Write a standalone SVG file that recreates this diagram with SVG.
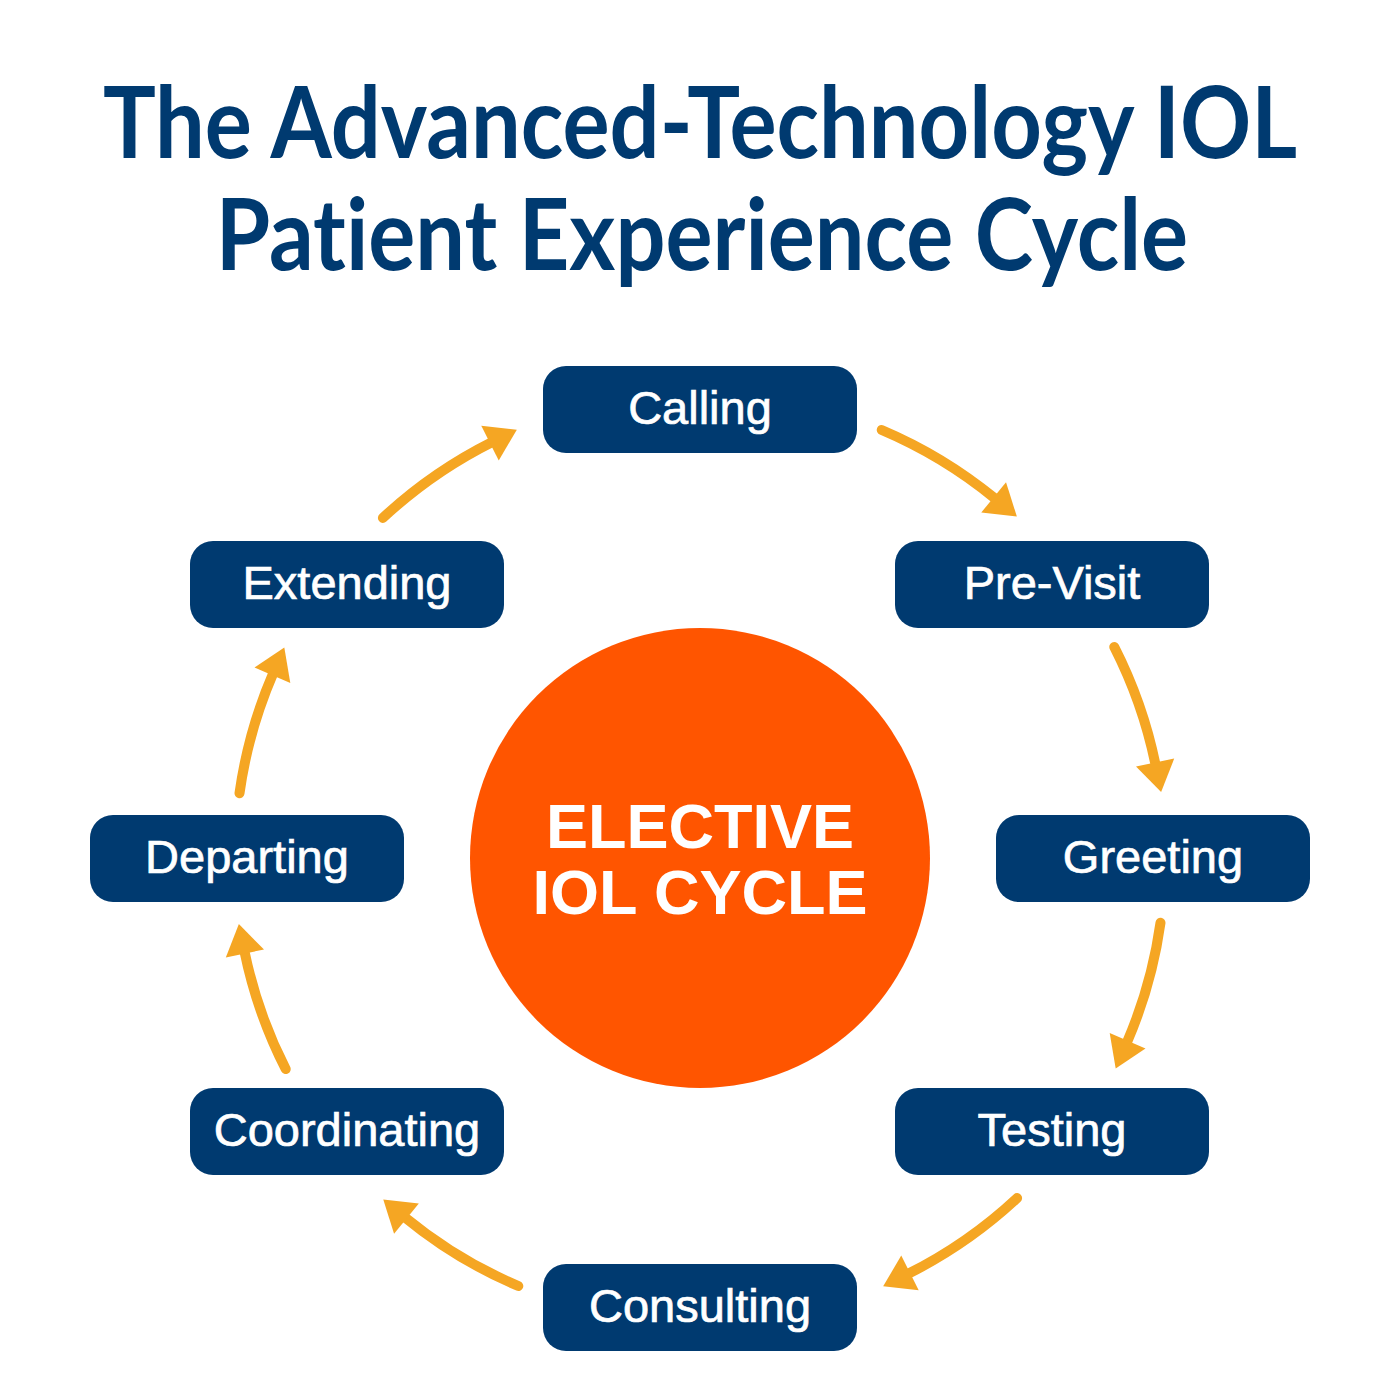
<svg xmlns="http://www.w3.org/2000/svg" width="1400" height="1400" viewBox="0 0 1400 1400">
  <style>
    .title { font-family: Lato, "Liberation Sans", Arial, sans-serif; font-weight: 700; font-size: 99px; fill: #003a70; text-anchor: middle; font-variant-ligatures: none; font-feature-settings: "liga" 0, "clig" 0; }
    .box { fill: #003a70; }
    .label { font-family: "Liberation Sans", Arial, sans-serif; font-size: 47px; fill: #ffffff; stroke: #ffffff; stroke-width: 0.7; text-anchor: middle; }
    .center { font-family: "Liberation Sans", Arial, sans-serif; font-weight: 700; font-size: 63px; fill: #ffffff; text-anchor: middle; }
    .arrow { fill: none; stroke: #f5a623; stroke-width: 10; stroke-linecap: round; marker-end: url(#head); }
  </style>
  <defs>
    <marker id="head" markerUnits="userSpaceOnUse" viewBox="-3 -21 34 42" markerWidth="34" markerHeight="42" refX="0" refY="0" orient="auto" overflow="visible">
      <path d="M-2,-19.5 L28,0 L-2,19.5 Z" fill="#f5a623"/>
    </marker>
  </defs>
  <rect width="1400" height="1400" fill="#ffffff"/>

  <g id="title">
    <text class="title" transform="translate(700,158) scale(0.88,1)" x="0" y="0" textLength="1357" lengthAdjust="spacingAndGlyphs">The Advanced-Technology IOL</text>
    <text class="title" transform="translate(702,270) scale(0.88,1)" x="0" y="0" textLength="1105" lengthAdjust="spacingAndGlyphs">Patient Experience Cycle</text>
  </g>

  <g id="connectors">
    <path class="arrow" d="M881.7,430 A465,465 0 0 1 995.2,498.7"/>
    <path class="arrow" d="M1114.3,646.9 A465,465 0 0 1 1155.5,764.5"/>
    <path class="arrow" d="M1160.5,922.7 A465,465 0 0 1 1126.8,1042.7"/>
    <path class="arrow" d="M1017.1,1198.1 A465,465 0 0 1 908.2,1273.8"/>
    <path class="arrow" d="M518.3,1286 A465,465 0 0 1 404.9,1217.3"/>
    <path class="arrow" d="M285.7,1069.1 A465,465 0 0 1 244.5,951.5"/>
    <path class="arrow" d="M239.5,793.3 A465,465 0 0 1 273.2,673.3"/>
    <path class="arrow" d="M382.9,517.9 A465,465 0 0 1 491.8,442.2"/>
  </g>

  <g id="center-node">
    <circle cx="700" cy="858" r="230" fill="#ff5500"/>
    <text class="center" x="700" y="848">ELECTIVE</text>
    <text class="center" x="700" y="914">IOL CYCLE</text>
  </g>

  <g id="node-calling">
    <rect class="box" x="543" y="366" width="314" height="87" rx="23"/>
    <text class="label" x="700" y="424">Calling</text>
  </g>
  <g id="node-previsit">
    <rect class="box" x="895" y="541" width="314" height="87" rx="23"/>
    <text class="label" x="1052" y="599">Pre-Visit</text>
  </g>
  <g id="node-greeting">
    <rect class="box" x="996" y="815" width="314" height="87" rx="23"/>
    <text class="label" x="1153" y="873">Greeting</text>
  </g>
  <g id="node-testing">
    <rect class="box" x="895" y="1088" width="314" height="87" rx="23"/>
    <text class="label" x="1052" y="1146">Testing</text>
  </g>
  <g id="node-consulting">
    <rect class="box" x="543" y="1264" width="314" height="87" rx="23"/>
    <text class="label" x="700" y="1322">Consulting</text>
  </g>
  <g id="node-coordinating">
    <rect class="box" x="190" y="1088" width="314" height="87" rx="23"/>
    <text class="label" x="347" y="1146">Coordinating</text>
  </g>
  <g id="node-departing">
    <rect class="box" x="90" y="815" width="314" height="87" rx="23"/>
    <text class="label" x="247" y="873">Departing</text>
  </g>
  <g id="node-extending">
    <rect class="box" x="190" y="541" width="314" height="87" rx="23"/>
    <text class="label" x="347" y="599">Extending</text>
  </g>
</svg>
